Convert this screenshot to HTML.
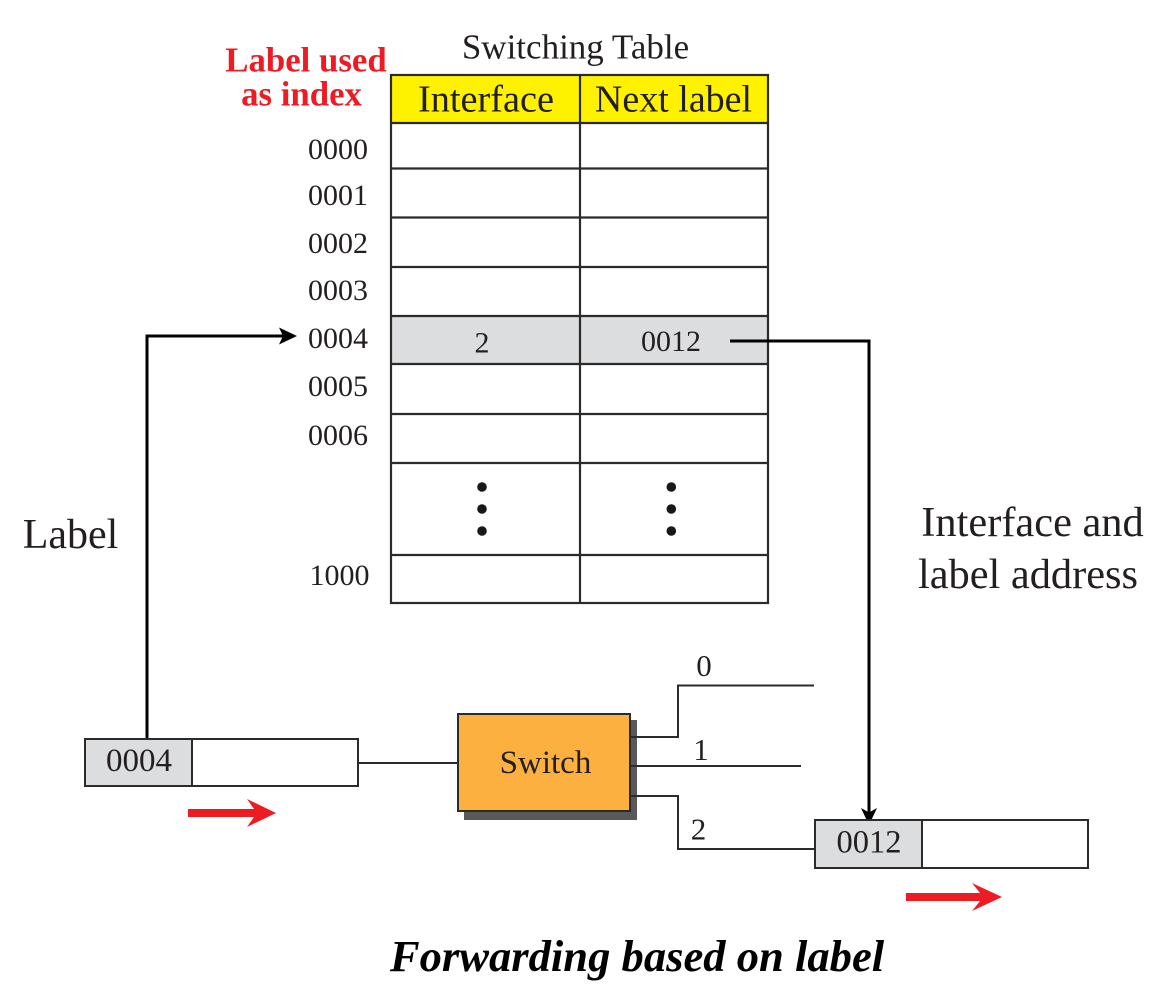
<!DOCTYPE html>
<html>
<head>
<meta charset="utf-8">
<style>
html,body{margin:0;padding:0;background:#fff;}
svg{display:block;}
text{font-family:"Liberation Serif",serif;fill:#231f20;}
</style>
</head>
<body>
<svg width="1176" height="1000" viewBox="0 0 1176 1000" xmlns="http://www.w3.org/2000/svg">
<rect width="1176" height="1000" fill="#fff"/>
<!-- table fills -->
<rect x="391" y="75" width="377" height="48" fill="#fff200"/>
<rect x="391" y="316" width="377" height="48" fill="#dcddde"/>
<!-- table lines -->
<g stroke="#2b2b2b" stroke-width="2.2" fill="none">
<rect x="391" y="75" width="377" height="528"/>
<line x1="580" y1="75" x2="580" y2="603"/>
<line x1="391" y1="123" x2="768" y2="123"/>
<line x1="391" y1="168.5" x2="768" y2="168.5"/>
<line x1="391" y1="217.5" x2="768" y2="217.5"/>
<line x1="391" y1="267" x2="768" y2="267"/>
<line x1="391" y1="316" x2="768" y2="316"/>
<line x1="391" y1="364" x2="768" y2="364"/>
<line x1="391" y1="414" x2="768" y2="414"/>
<line x1="391" y1="463" x2="768" y2="463"/>
<line x1="391" y1="555" x2="768" y2="555"/>
</g>
<text x="575.5" y="58.5" font-size="35" text-anchor="middle">Switching Table</text>
<text x="306" y="71.5" font-size="34.8" font-weight="bold" text-anchor="middle" style="fill:#ed1c24">Label used</text>
<text x="301.5" y="105.5" font-size="34.8" font-weight="bold" text-anchor="middle" style="fill:#ed1c24">as index</text>
<text x="486" y="111.5" font-size="38.3" text-anchor="middle">Interface</text>
<text x="673.5" y="111.5" font-size="38" text-anchor="middle">Next label</text>
<g font-size="30" text-anchor="middle">
<text x="338" y="159">0000</text>
<text x="338" y="205">0001</text>
<text x="338" y="253">0002</text>
<text x="338" y="300">0003</text>
<text x="338" y="348">0004</text>
<text x="338" y="396">0005</text>
<text x="338" y="445">0006</text>
<text x="339.5" y="585">1000</text>
<text x="482" y="352.5">2</text>
<text x="671" y="351">0012</text>
</g>
<!-- dots -->
<g fill="#1a1718">
<circle cx="482" cy="487" r="4.8"/><circle cx="482" cy="509" r="4.8"/><circle cx="482" cy="531" r="4.8"/>
<circle cx="671.3" cy="487" r="4.8"/><circle cx="671.3" cy="509" r="4.8"/><circle cx="671.3" cy="531" r="4.8"/>
</g>
<!-- arrows -->
<g stroke="#000" stroke-width="3" fill="none">
<path d="M147 738V336H284"/>
<path d="M730 341H869V814"/>
</g>
<polygon points="297,336 279,327.5 283,336 279,344.5" fill="#000"/>
<polygon points="869,825 861,808 869,812.5 877,808" fill="#000"/>
<text x="70.5" y="548" font-size="42" text-anchor="middle">Label</text>
<text x="1032.5" y="536" font-size="42.4" text-anchor="middle">Interface and</text>
<text x="1028" y="588" font-size="42.4" text-anchor="middle">label address</text>
<!-- left packet -->
<rect x="85" y="739" width="107" height="47" fill="#dcddde"/>
<rect x="85" y="739" width="273" height="47" fill="none" stroke="#2b2b2b" stroke-width="2"/>
<line x1="192" y1="739" x2="192" y2="786" stroke="#2b2b2b" stroke-width="2"/>
<text x="139" y="771" font-size="33" text-anchor="middle">0004</text>
<!-- right packet -->
<rect x="815" y="820" width="107" height="48" fill="#dcddde"/>
<rect x="815" y="820" width="273" height="48" fill="none" stroke="#2b2b2b" stroke-width="2"/>
<line x1="922" y1="820" x2="922" y2="868" stroke="#2b2b2b" stroke-width="2"/>
<text x="869" y="852.5" font-size="32.5" text-anchor="middle">0012</text>
<!-- switch -->
<rect x="464" y="720" width="173" height="100" fill="#58595b"/>
<rect x="458" y="714" width="172" height="97" fill="#fbb040" stroke="#2b2b2b" stroke-width="2"/>
<text x="545.5" y="773" font-size="33" text-anchor="middle">Switch</text>
<g stroke="#2b2b2b" stroke-width="2" fill="none">
<line x1="359" y1="763" x2="458" y2="763"/>
<path d="M630 737H678V685.5H814"/>
<line x1="630" y1="766" x2="801" y2="766"/>
<path d="M630 796H678V849H815"/>
</g>
<text x="704" y="676" font-size="31" text-anchor="middle">0</text>
<text x="701" y="760" font-size="31" text-anchor="middle">1</text>
<text x="698.5" y="839.5" font-size="31" text-anchor="middle">2</text>
<!-- red arrows -->
<g fill="#ed1c24">
<polygon points="188,809 254,809 247,799 276,813 247,827 254,817 188,817"/>
<polygon points="906,893 980,893 972,883 1002,897 972,911 980,901 906,901"/>
</g>
<text x="637" y="971" font-size="44.6" font-weight="bold" font-style="italic" text-anchor="middle" style="fill:#000">Forwarding based on label</text>
</svg>
</body>
</html>
